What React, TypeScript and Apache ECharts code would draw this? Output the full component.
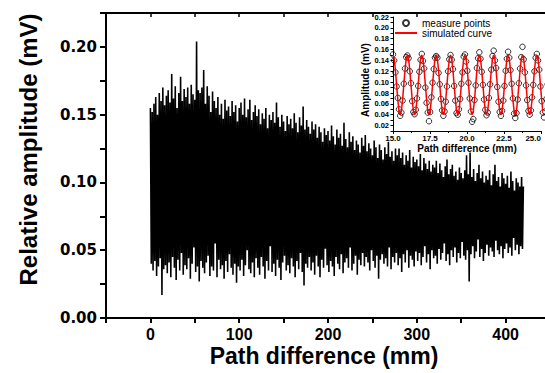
import React, { useEffect, useRef } from "react";
import * as echarts from "echarts";

// Main signal: local maxima (even mm) and minima (odd mm), in 1e-3 mV
const PEAK_VALUES = [
  155, 152, 158, 163, 150, 166, 160, 170, 157, 164,
  168, 159, 180, 162, 171, 155, 166, 178, 160, 169,
  163, 170, 158, 172, 165, 161, 204, 168, 166, 170,
  183, 158, 171, 164, 152, 167, 160, 155, 163, 150,
  158, 147, 161, 153, 156, 149, 160, 152, 157, 145,
  155, 159, 150, 162, 148, 154, 161, 146, 152, 157,
  149, 154, 143, 151, 147, 155, 140, 150, 146, 152,
  144, 159, 148, 141, 150, 145, 138, 149, 143, 147,
  140, 151, 144, 137, 148, 142, 156, 139, 146, 141,
  136, 145, 139, 143, 133, 141, 137, 130, 140, 135,
  138, 131, 142, 134, 128, 139, 133, 136, 127, 144,
  132, 126, 137, 130, 134, 124, 131, 128, 122, 133,
  127, 135, 123, 129, 125, 120, 131, 126, 118, 128,
  124, 117, 126, 121, 130, 119, 123, 116, 125, 120,
  125, 118, 122, 113, 120, 116, 124, 111, 119, 115,
  117, 112, 121, 109, 118, 114, 110, 116, 108, 113,
  111, 116, 107, 114, 109, 104, 112, 117, 106, 110,
  113, 105, 108, 102, 111, 107, 103, 109, 120, 106,
  122, 104, 110, 101, 107, 113, 103, 108, 100, 105,
  102, 109, 98, 106, 113, 101, 104, 97, 107, 103,
  99, 105, 96, 108, 101, 94, 103, 100, 97, 104,
  97,
];
const TROUGH_VALUES = [
  40, 35, 42, 31, 38, 44, 17, 36, 39, 33,
  41, 30, 45, 37, 28, 43, 35, 48, 32, 39,
  36, 44, 29, 40, 52, 34, 38, 27, 42, 37,
  33, 41, 46, 31, 38, 35, 55, 30, 43, 36,
  39, 29, 42, 34, 47, 37, 32, 40, 26, 38,
  35, 43, 31, 39, 50, 36, 33, 41, 30, 44,
  37, 32, 45, 38, 29, 42, 35, 53, 34, 40,
  31, 43, 37, 28, 41, 46, 35, 39, 33, 44,
  38, 30, 42, 36, 48, 34, 24, 40, 37, 45,
  35, 41, 32, 46, 38, 30, 43, 37, 51, 39,
  34, 42, 38, 31, 45, 40, 36, 47, 33, 41,
  44, 37, 52, 35, 40, 46, 32, 43, 39, 48,
  38, 45, 41, 35, 50, 42, 37, 46, 29, 43,
  47, 40, 44, 38, 52, 36, 45, 41, 48, 39,
  44, 34, 47, 41, 50, 37, 46, 43, 38, 49,
  42, 48, 39, 45, 53, 41, 47, 36, 50, 44,
  46, 40, 51, 43, 48, 55, 42, 47, 39, 50,
  45, 52, 41, 48, 44, 56, 46, 43, 50, 27,
  47, 53, 44, 49, 58, 45, 51, 42, 48, 54,
  46, 52, 49, 45, 57, 50, 47, 53, 44, 51,
  55, 48, 52, 46, 59, 50, 54, 47, 53, 51,
];

// Inset: sampled from 15.0 mm every 0.081 mm, in 1e-3 mV
const INSET_START_MM = 15.0;
const INSET_STEP_MM = 0.081;
const MEASURED = [
  151, 140, 118, 92, 71, 50, 38, 44, 66, 97, 125, 146,
  149, 144, 120, 98, 65, 45, 41, 49, 70, 93, 119, 141,
  152, 139, 125, 90, 62, 44, 28, 45, 72, 99, 124, 145,
  148, 145, 117, 96, 69, 48, 38, 46, 64, 92, 120, 142,
  150, 141, 124, 93, 66, 43, 40, 50, 69, 97, 118, 147,
  151, 138, 121, 99, 70, 46, 27, 32, 67, 94, 126, 144,
  155, 143, 119, 95, 68, 49, 39, 44, 71, 96, 123, 148,
  158, 140, 126, 91, 64, 45, 38, 47, 66, 93, 121, 143,
  156, 145, 122, 97, 70, 42, 34, 43, 68, 98, 125, 146,
  165, 142, 118, 94, 67, 47, 40, 48, 72, 95, 120, 145,
  152, 140, 123, 92, 65, 44, 35, 46, 69, 96, 122, 144,
];
const SIMULATED = [
  150, 143, 122, 95, 68, 47, 40, 47, 68, 95, 122, 143,
  150, 143, 122, 95, 68, 47, 40, 47, 68, 95, 122, 143,
  150, 143, 122, 95, 68, 47, 40, 47, 68, 95, 122, 143,
  150, 143, 122, 95, 68, 47, 40, 47, 68, 95, 122, 143,
  150, 143, 122, 95, 68, 47, 40, 47, 68, 95, 122, 143,
  150, 143, 122, 95, 68, 47, 40, 47, 68, 95, 122, 143,
  150, 143, 122, 95, 68, 47, 40, 47, 68, 95, 122, 143,
  150, 143, 122, 95, 68, 47, 40, 47, 68, 95, 122, 143,
  150, 143, 122, 95, 68, 47, 40, 47, 68, 95, 122, 143,
  150, 143, 122, 95, 68, 47, 40, 47, 68, 95, 122, 143,
  150, 143, 122, 95, 68, 47, 40, 47, 68, 95, 122, 143,
];

const LEGEND_NAMES = ["measure points", "simulated curve"];
const SANS = "'Liberation Sans', Arial, sans-serif";
const DEJAVU = "'DejaVu Sans', sans-serif";

export default function App() {
  const ref = useRef<HTMLDivElement>(null);
  useEffect(() => {
    const chart = echarts.init(ref.current!, null, { renderer: "svg" });

    const mainData: number[][] = [];
    const total = PEAK_VALUES.length + TROUGH_VALUES.length;
    for (let i = 0; i < total; i++) {
      const v = i % 2 === 0 ? PEAK_VALUES[i / 2] : TROUGH_VALUES[(i - 1) / 2];
      mainData.push([i, v / 1000]);
    }
    const measured = MEASURED.map((v, i) => [INSET_START_MM + i * INSET_STEP_MM, v / 1000]);
    const simulated = SIMULATED.map((v, i) => [INSET_START_MM + i * INSET_STEP_MM, v / 1000]);

    const black = "#000";
    chart.setOption({
      animation: false,
      backgroundColor: "#fff",
      grid: [
        { left: 106, top: 13, width: 444, height: 305, show: false, containLabel: false, outerBoundsMode: "none" },
        {
          left: 393, top: 17, width: 148, height: 114, show: true, backgroundColor: "#fff",
          borderWidth: 0, z: 3, containLabel: false, outerBoundsMode: "none",
        },
      ],
      legend: {
        data: [
          { name: LEGEND_NAMES[0], icon: "circle" },
          { name: LEGEND_NAMES[1], itemStyle: { opacity: 0 } },
        ],
        orient: "vertical",
        left: 394,
        top: 18,
        itemWidth: 22,
        itemHeight: 6,
        itemGap: 0,
        padding: 0,
        textStyle: { fontSize: 10, fontFamily: SANS, color: black },
        z: 10,
      },
      xAxis: [
        {
          gridIndex: 0, type: "value", position: "bottom", min: -50, max: 450, interval: 50,
          axisLine: { show: true, onZero: false, lineStyle: { color: black, width: 2 } },
          axisTick: { show: true, inside: false, length: 5, lineStyle: { color: black, width: 2 } },
          axisLabel: {
            margin: 8, color: black, fontSize: 16, fontWeight: "bold", fontFamily: SANS,
            formatter: (v: number) => (v >= 0 && v % 100 === 0 ? String(v) : ""),
          },
          splitLine: { show: false },
          name: "Path difference (mm)", nameLocation: "middle", nameGap: 26, nameMoveOverlap: false,
          nameTextStyle: { fontSize: 23, fontWeight: "bold", fontFamily: SANS, color: black, padding: [0, 8, 0, 0] },
        },
        {
          gridIndex: 0, type: "value", position: "top", min: -50, max: 450, interval: 50,
          axisLine: { show: true, onZero: false, lineStyle: { color: black, width: 2 } },
          axisTick: { show: true, inside: true, length: 4, lineStyle: { color: black, width: 1.5 } },
          axisLabel: { show: false },
          splitLine: { show: false },
        },
        {
          gridIndex: 1, type: "value", position: "bottom", min: 15, max: 25, interval: 2.5, z: 4,
          axisLine: { show: true, onZero: false, lineStyle: { color: black, width: 1 } },
          axisTick: { show: true, length: 3, lineStyle: { color: black, width: 1 } },
          minorTick: { show: true, splitNumber: 2, length: 2, lineStyle: { color: black, width: 1 } },
          axisLabel: {
            margin: 3, color: black, fontSize: 8, fontWeight: "bold", fontFamily: SANS,
            alignMaxLabel: "right",
            formatter: (v: number) => v.toFixed(1),
          },
          splitLine: { show: false },
          name: "Path difference (mm)", nameLocation: "middle", nameGap: 12,
          nameTextStyle: { fontSize: 10, fontWeight: "bold", fontFamily: SANS, color: black },
        },
      ],
      yAxis: [
        {
          gridIndex: 0, type: "value", min: 0, max: 0.225, interval: 0.025,
          axisLine: { show: true, onZero: false, lineStyle: { color: black, width: 2 } },
          axisTick: { show: true, inside: false, length: 6, lineStyle: { color: black, width: 2 } },
          axisLabel: {
            margin: 9, color: black, fontSize: 15, fontWeight: "bold", fontFamily: DEJAVU,
            formatter: (v: number) => {
              const k = Math.round(v * 1000);
              return k % 50 === 0 ? (k / 1000).toFixed(2) : "";
            },
          },
          splitLine: { show: false },
          name: "Relative amplitude (mV)", nameLocation: "middle", nameGap: 66,
          nameTextStyle: { fontSize: 24, fontWeight: "bold", fontFamily: SANS, color: black, padding: [0, 0, 0, 32] },
        },
        {
          gridIndex: 1, type: "value", min: 0.01, max: 0.22, interval: 0.01, z: 4,
          axisLine: { show: true, onZero: false, lineStyle: { color: black, width: 1 } },
          axisTick: { show: true, length: 2.5, lineStyle: { color: black, width: 1 } },
          axisLabel: {
            margin: 4, color: black, fontSize: 7.5, fontWeight: "bold", fontFamily: SANS,
            formatter: (v: number) => {
              const k = Math.round(v * 100);
              return k % 2 === 0 ? (k / 100).toFixed(2) : "";
            },
          },
          splitLine: { show: false },
          name: "Amplitude (mV)", nameLocation: "middle", nameGap: 22,
          nameTextStyle: { fontSize: 10, fontWeight: "bold", fontFamily: SANS, color: black, padding: [0, 12, 0, 0] },
        },
      ],
      series: [
        {
          type: "line", xAxisIndex: 0, yAxisIndex: 0, data: mainData, symbol: "none",
          lineStyle: { color: black, width: 1.6 }, z: 2, silent: true,
        },
        {
          name: LEGEND_NAMES[0], type: "scatter", xAxisIndex: 2, yAxisIndex: 1, data: measured,
          symbol: "circle", symbolSize: 5.5, clip: false,
          itemStyle: { color: "rgba(0,0,0,0)", borderColor: black, borderWidth: 1 }, z: 5,
        },
        {
          name: LEGEND_NAMES[1], type: "line", xAxisIndex: 2, yAxisIndex: 1, data: simulated,
          symbol: "none", showSymbol: false, clip: false, lineStyle: { color: "#ff0000", width: 1.5 }, z: 6,
        },
      ],
    });
    return () => chart.dispose();
  }, []);
  return <div ref={ref} style={{ position: "absolute", left: 0, top: 0, width: 545, height: 373 }} />;
}
